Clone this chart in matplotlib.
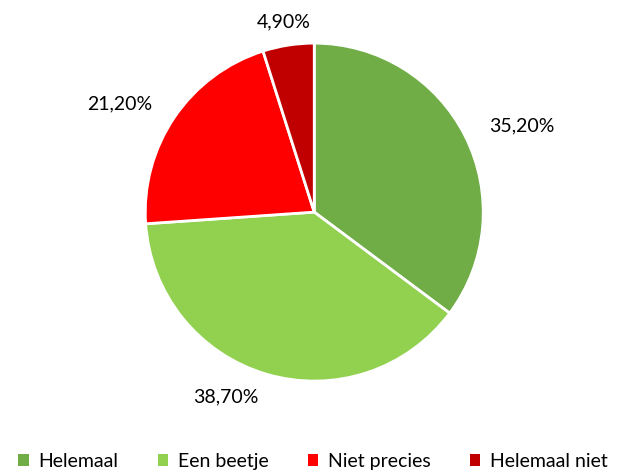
import numpy as np
import matplotlib

matplotlib.use("Agg")
import matplotlib.pyplot as plt
from matplotlib.patches import Patch

plt.rcParams["font.family"] = ["Lato", "DejaVu Sans"]

categories = ["Helemaal", "Een beetje", "Niet precies", "Helemaal niet"]
values = [35.2, 38.7, 21.2, 4.9]
labels = ["35,20%", "38,70%", "21,20%", "4,90%"]
colors = ["#70AD47", "#92D050", "#FF0000", "#C00000"]

fig = plt.figure(figsize=(6.26, 4.74), dpi=100)
ax = fig.add_axes([0.232, 0.196, 0.54, 0.713])
wedges, _ = ax.pie(values, colors=colors, startangle=90, counterclock=False,
                   wedgeprops=dict(edgecolor="white", linewidth=2))
ax.set_xlim(-1, 1)
ax.set_ylim(-1, 1)

for w, lab in zip(wedges, labels):
    ang = np.deg2rad((w.theta1 + w.theta2) / 2)
    c, s = np.cos(ang), np.sin(ang)
    ha = "left" if c > 0.25 else ("right" if c < -0.25 else "center")
    ax.text(1.16 * c, 1.14 * s, lab, ha=ha, va="center", fontsize=14,
            clip_on=False)

handles = [Patch(facecolor=col, edgecolor="none") for col in colors]
fig.legend(handles, categories, loc="center", bbox_to_anchor=(0.5, 0.026),
           ncol=4, frameon=False, fontsize=14, handlelength=0.55,
           handleheight=0.55, handletextpad=0.5, columnspacing=2.0)

fig.savefig("out.png", dpi=100)
